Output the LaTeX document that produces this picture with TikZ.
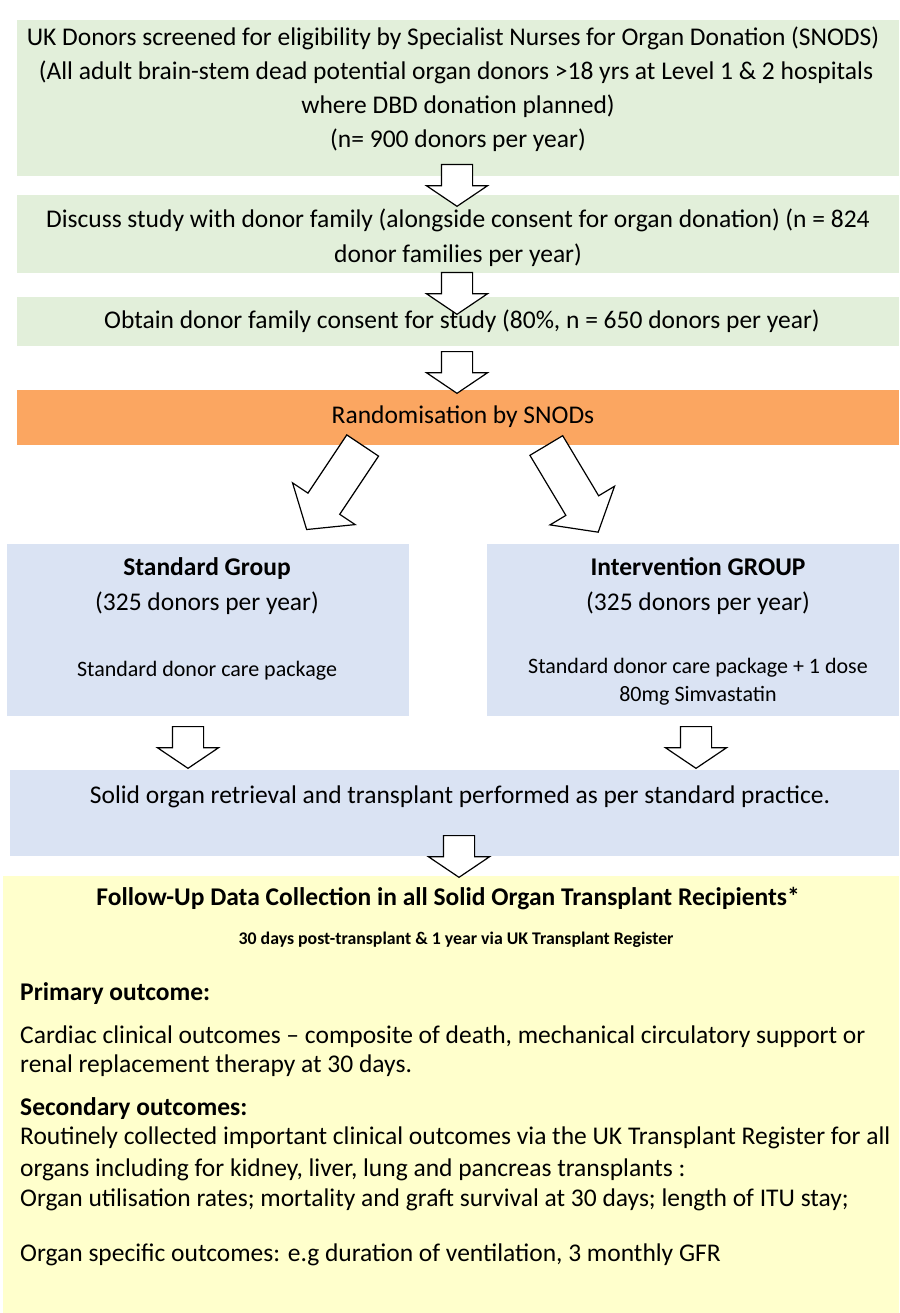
\documentclass[tikz,border=0pt]{standalone}
\usepackage{fontspec}
\setmainfont{Carlito}
\usetikzlibrary{shapes.arrows}
\definecolor{donorgreen}{HTML}{E2EFDA}
\definecolor{randorange}{HTML}{FBA661}
\definecolor{groupblue}{HTML}{DAE3F3}
\definecolor{followyellow}{HTML}{FFFFCC}
\tikzset{
	panel/.style={anchor=north west, inner sep=0, outer sep=0},
	line/.style={anchor=mid, inner sep=0, yshift=-5pt, font=\fontsize{25.5}{30}\selectfont},
	small/.style={anchor=mid, inner sep=0, yshift=-4pt, font=\fontsize{22}{26}\selectfont},
	hollow/.style={single arrow, draw=black, fill=white, line width=1.2pt,
		inner sep=15pt, single arrow head extend=15pt,
		single arrow tip angle=112, minimum height=34pt, anchor=tail, rotate=-90},
	fork/.style={single arrow, draw=black, fill=white, line width=1.2pt,
		inner sep=18.5pt, single arrow head extend=18.5pt,
		single arrow tip angle=101, minimum height=101pt, anchor=tail}
}
\begin{document}
\begin{tikzpicture}[x=1pt, y=-1pt]
	\useasboundingbox (0, 0) rectangle (899, 1313);
	% boxes
	\node (screen) at (17, 20) [panel, fill=donorgreen, minimum width=882pt, minimum height=156pt] {};
	\node (discuss) at (17, 195) [panel, fill=donorgreen, minimum width=882pt, minimum height=78pt] {};
	\node (consent) at (17, 297) [panel, fill=donorgreen, minimum width=882pt, minimum height=49pt] {};
	\node (random) at (17, 390) [panel, fill=randorange, minimum width=882pt, minimum height=55pt] {};
	\node (standard) at (7, 544) [panel, fill=groupblue, minimum width=402pt, minimum height=172pt] {};
	\node (interv) at (487, 544) [panel, fill=groupblue, minimum width=412pt, minimum height=172pt] {};
	\node (retrieval) at (10, 770) [panel, fill=groupblue, minimum width=889pt, minimum height=86pt] {};
	\node (followup) at (3, 876) [panel, fill=followyellow, minimum width=896pt, minimum height=437pt] {};

	% texts
	\node (screen1) at (453, 38) [line] {UK Donors screened for eligibility by Specialist Nurses for Organ Donation (SNODS)};
	\node (screen2) at (456, 72) [line] {(All adult brain-stem dead potential organ donors >18 yrs at Level 1 \& 2 hospitals};
	\node (screen3) at (458, 106) [line] {where DBD donation planned)};
	\node (screen4) at (458, 140) [line] {(n= 900 donors per year)};
	\node (discuss1) at (458, 220) [line] {Discuss study with donor family (alongside consent for organ donation) (n = 824};
	\node (discuss2) at (458, 255) [line] {donor families per year)};
	\node (consent1) at (462, 321) [line] {Obtain donor family consent for study (80\%, n = 650 donors per year)};
	\node (random1) at (463, 416) [line] {Randomisation by SNODs};
	\node (standard1) at (207, 568) [line, font=\fontsize{25.5}{30}\bfseries] {Standard Group};
	\node (standard2) at (207, 603) [line] {(325 donors per year)};
	\node (standard3) at (207, 670) [small] {Standard donor care package};
	\node (interv1) at (698, 568) [line, font=\fontsize{25.5}{30}\bfseries] {Intervention GROUP};
	\node (interv2) at (698, 603) [line] {(325 donors per year)};
	\node (interv3) at (698, 667) [small] {Standard donor care package + 1 dose};
	\node (interv4) at (698, 695) [small] {80mg Simvastatin};
	\node (retrieval1) at (460, 796) [line] {Solid organ retrieval and transplant performed as per standard practice.};
	\node (follow1) at (448, 898) [line, font=\fontsize{25.5}{30}\bfseries] {Follow-Up Data Collection in all Solid Organ Transplant Recipients*};
	\node (follow2) at (456, 938) [small, font=\fontsize{17.8}{21}\bfseries] {30 days post-transplant \& 1 year via UK Transplant Register};
	\node (primary) at (20, 993) [line, anchor=mid west, font=\fontsize{25.5}{30}\bfseries] {Primary outcome:};
	\node (primary1) at (20, 1036) [line, anchor=mid west] {Cardiac clinical outcomes -- composite of death, mechanical circulatory support or};
	\node (primary2) at (20, 1065) [line, anchor=mid west] {renal replacement therapy at 30 days.};
	\node (second) at (20, 1108) [line, anchor=mid west, font=\fontsize{25.5}{30}\bfseries] {Secondary outcomes:};
	\node (second1) at (20, 1137) [line, anchor=mid west] {Routinely collected important clinical outcomes via the UK Transplant Register for all};
	\node (second2) at (20, 1169) [line, anchor=mid west] {organs including for kidney, liver, lung and pancreas transplants :};
	\node (second3) at (20, 1199) [line, anchor=mid west] {Organ utilisation rates; mortality and graft survival at 30 days; length of ITU stay;};
	\node (second4) at (20, 1254) [line, anchor=mid west] {Organ specific outcomes: e.g duration of ventilation, 3 monthly GFR};

	% arrows
	\node (arr1) at (457, 164) [hollow] {};
	\node (arr2) at (457, 272) [hollow] {};
	\node (arr3) at (457, 351) [hollow] {};
	\node (armleft) at (363, 445) [fork, rotate=-123.7] {};
	\node (armright) at (546, 445) [fork, rotate=-59.1] {};
	\node (arr4) at (188, 726) [hollow] {};
	\node (arr5) at (696, 726) [hollow] {};
	\node (arr6) at (459, 835) [hollow] {};
\end{tikzpicture}
\end{document}
